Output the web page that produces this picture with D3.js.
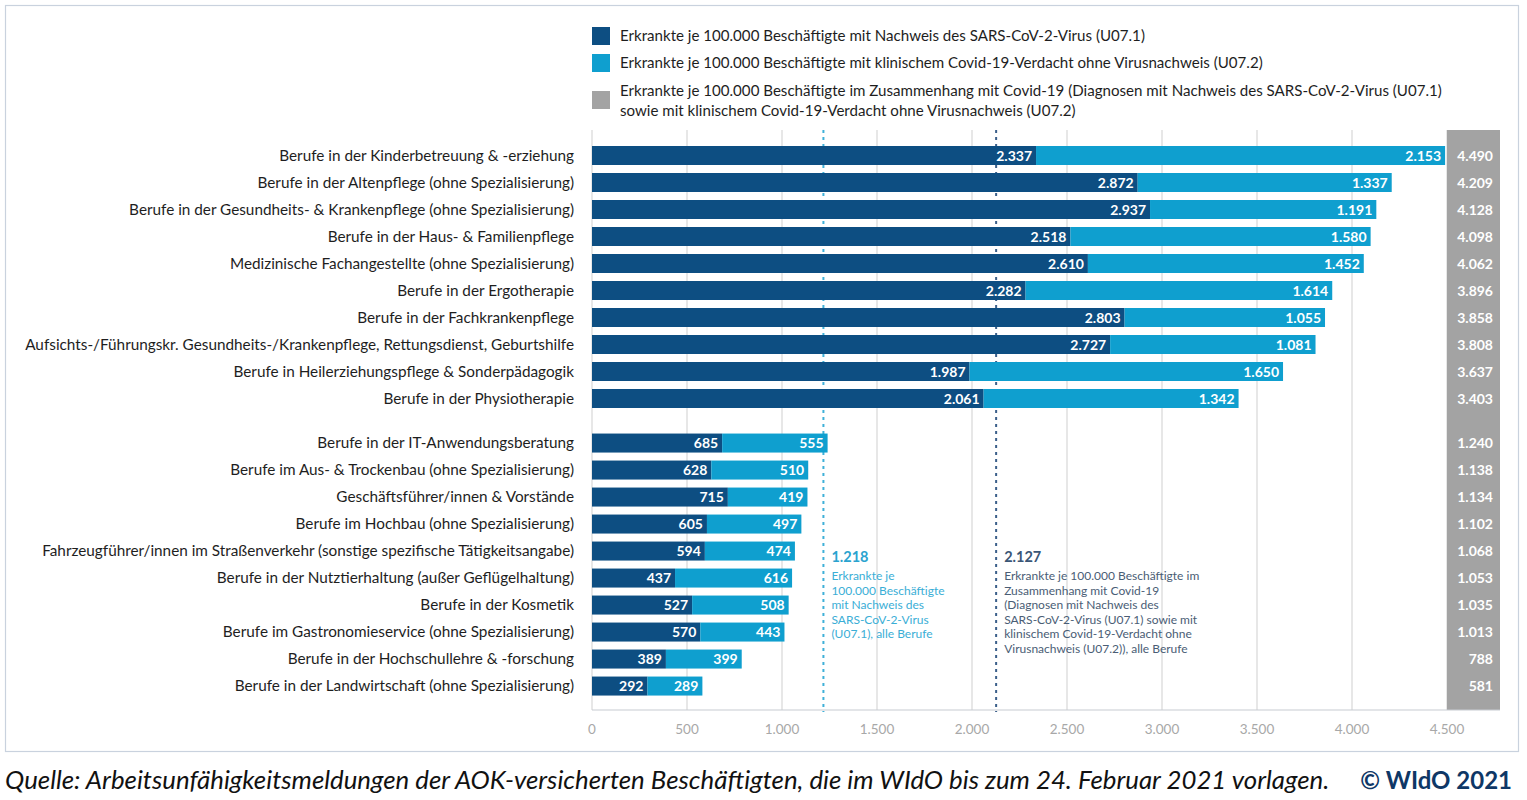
<!DOCTYPE html>
<html>
<head>
<meta charset="utf-8">
<script src="https://cdn.jsdelivr.net/npm/d3@7"></script>
<style>
  body { margin: 0; background: #fff; }
  svg { font-family: Lato, "Open Sans", sans-serif; }
</style>
</head>
<body>
<div id="container"></div>
<script>
// ---------------------
// DATA
// ---------------------
const categories = [
  'Berufe in der Kinderbetreuung & -erziehung',
  'Berufe in der Altenpflege (ohne Spezialisierung)',
  'Berufe in der Gesundheits- & Krankenpflege (ohne Spezialisierung)',
  'Berufe in der Haus- & Familienpflege',
  'Medizinische Fachangestellte (ohne Spezialisierung)',
  'Berufe in der Ergotherapie',
  'Berufe in der Fachkrankenpflege',
  'Aufsichts-/Führungskr. Gesundheits-/Krankenpflege, Rettungsdienst, Geburtshilfe',
  'Berufe in Heilerziehungspflege & Sonderpädagogik',
  'Berufe in der Physiotherapie',
  'Berufe in der IT-Anwendungsberatung',
  'Berufe im Aus- & Trockenbau (ohne Spezialisierung)',
  'Geschäftsführer/innen & Vorstände',
  'Berufe im Hochbau (ohne Spezialisierung)',
  'Fahrzeugführer/innen im Straßenverkehr (sonstige spezifische Tätigkeitsangabe)',
  'Berufe in der Nutztierhaltung (außer Geflügelhaltung)',
  'Berufe in der Kosmetik',
  'Berufe im Gastronomieservice (ohne Spezialisierung)',
  'Berufe in der Hochschullehre & -forschung',
  'Berufe in der Landwirtschaft (ohne Spezialisierung)'
];
const u071 = [2337, 2872, 2937, 2518, 2610, 2282, 2803, 2727, 1987, 2061,
              685, 628, 715, 605, 594, 437, 527, 570, 389, 292];
const u072 = [2153, 1337, 1191, 1580, 1452, 1614, 1055, 1081, 1650, 1342,
              555, 510, 419, 497, 474, 616, 508, 443, 399, 289];
const totals = [4490, 4209, 4128, 4098, 4062, 3896, 3858, 3808, 3637, 3403,
                1240, 1138, 1134, 1102, 1068, 1053, 1035, 1013, 788, 581];
const groupSize = 10;

const xTicks = [0, 500, 1000, 1500, 2000, 2500, 3000, 3500, 4000, 4500];

const legendItems = [
  ['Erkrankte je 100.000 Beschäftigte mit Nachweis des SARS-CoV-2-Virus (U07.1)'],
  ['Erkrankte je 100.000 Beschäftigte mit klinischem Covid-19-Verdacht ohne Virusnachweis (U07.2)'],
  ['Erkrankte je 100.000 Beschäftigte im Zusammenhang mit Covid-19 (Diagnosen mit Nachweis des SARS-CoV-2-Virus (U07.1)',
   'sowie mit klinischem Covid-19-Verdacht ohne Virusnachweis (U07.2)']
];

const refLines = [
  { value: 1218, kind: 'light',
    text: ['Erkrankte je', '100.000 Beschäftigte', 'mit Nachweis des', 'SARS-CoV-2-Virus', '(U07.1), alle Berufe'] },
  { value: 2127, kind: 'dark',
    text: ['Erkrankte je 100.000 Beschäftigte im', 'Zusammenhang mit Covid-19', '(Diagnosen mit Nachweis des',
           'SARS-CoV-2-Virus (U07.1) sowie mit', 'klinischem Covid-19-Verdacht ohne', 'Virusnachweis (U07.2)), alle Berufe'] }
];

const sourceText = 'Quelle: Arbeitsunfähigkeitsmeldungen der AOK-versicherten Beschäftigten, die im WIdO bis zum 24. Februar 2021 vorlagen.';
const copyText = '© WIdO 2021';

// ---------------------
// SETUP
// ---------------------
const W = 1527, H = 800;
const colors = { dark: '#0d4e82', light: '#0f9fcf', gray: '#a3a3a3', grid: '#cfcfcf' };
const de = d3.formatLocale({ decimal: ',', thousands: '.', grouping: [3], currency: ['', '€'] });
const fmt = de.format(',d');

const svg = d3.select('#container').append('svg')
  .attr('width', W).attr('height', H);

// outer frame
svg.append('rect')
  .attr('x', 5.5).attr('y', 5.5)
  .attr('width', 1513).attr('height', 746)
  .attr('fill', 'none').attr('stroke', '#c9d2de').attr('stroke-width', 1.2);

const x = d3.scaleLinear().domain([0, 4500]).range([592, 1447]);
// row index -> center y, group 2 shifted down by a gap
const rowY = d3.scaleLinear().domain([0, 1]).range([155.5, 182.5]);
const gap = 0.65;
const yPos = i => rowY(i + (i >= groupSize ? gap : 0));
const barH = 19;
const plotTop = 130, plotBottom = 710;

// ---------------------
// GRID + AXIS
// ---------------------
svg.append('g').selectAll('line')
  .data(xTicks)
  .enter().append('line')
  .attr('x1', d => x(d)).attr('x2', d => x(d))
  .attr('y1', plotTop).attr('y2', plotBottom)
  .attr('stroke', colors.grid).attr('stroke-width', 1);

// total column (gray)
svg.append('rect')
  .attr('x', x(4500)).attr('y', plotTop)
  .attr('width', 53).attr('height', plotBottom - plotTop)
  .attr('fill', colors.gray);

svg.append('line')
  .attr('x1', x(0)).attr('x2', x(4500) + 53)
  .attr('y1', plotBottom).attr('y2', plotBottom)
  .attr('stroke', '#c8ccd2').attr('stroke-width', 1.2);

svg.append('g').selectAll('text')
  .data(xTicks)
  .enter().append('text')
  .attr('x', d => x(d)).attr('y', 734)
  .attr('text-anchor', 'middle')
  .attr('font-size', 13.5).attr('fill', '#a8a8a8')
  .text(d => fmt(d));

// reference lines (behind bars)
svg.append('g').selectAll('line')
  .data(refLines)
  .enter().append('line')
  .attr('x1', d => x(d.value)).attr('x2', d => x(d.value))
  .attr('y1', plotTop).attr('y2', plotBottom + 2)
  .attr('stroke', d => d.kind === 'light' ? '#3fb0d8' : '#3b5f8a')
  .attr('stroke-width', 2)
  .attr('stroke-dasharray', '3,4');

// ---------------------
// BARS
// ---------------------
const rows = categories.map((c, i) => ({ c, i, a: u071[i], b: u072[i], t: totals[i] }));

const g = svg.append('g');
g.selectAll('.bar_a')
  .data(rows).enter().append('rect')
  .attr('class', 'bar_a')
  .attr('x', x(0)).attr('y', d => yPos(d.i) - barH / 2)
  .attr('width', d => x(d.a) - x(0)).attr('height', barH)
  .attr('fill', colors.dark);

g.selectAll('.bar_b')
  .data(rows).enter().append('rect')
  .attr('class', 'bar_b')
  .attr('x', d => x(d.a)).attr('y', d => yPos(d.i) - barH / 2)
  .attr('width', d => x(d.a + d.b) - x(d.a)).attr('height', barH)
  .attr('fill', colors.light);

// value labels inside bars
g.selectAll('.lab_a')
  .data(rows).enter().append('text')
  .attr('x', d => x(d.a) - 4).attr('y', d => yPos(d.i) + 5)
  .attr('text-anchor', 'end').attr('font-size', 14).attr('font-weight', 'bold')
  .attr('fill', '#fff')
  .text(d => fmt(d.a));

g.selectAll('.lab_b')
  .data(rows).enter().append('text')
  .attr('x', d => x(d.a + d.b) - 4).attr('y', d => yPos(d.i) + 5)
  .attr('text-anchor', 'end').attr('font-size', 14).attr('font-weight', 'bold')
  .attr('fill', '#fff')
  .text(d => fmt(d.b));

g.selectAll('.lab_t')
  .data(rows).enter().append('text')
  .attr('x', x(4500) + 46).attr('y', d => yPos(d.i) + 5)
  .attr('text-anchor', 'end').attr('font-size', 14).attr('font-weight', 'bold')
  .attr('fill', '#fff')
  .text(d => fmt(d.t));

// category labels
g.selectAll('.cat')
  .data(rows).enter().append('text')
  .attr('x', 574).attr('y', d => yPos(d.i) + 5)
  .attr('text-anchor', 'end').attr('font-size', 15.3)
  .attr('fill', '#1e1e1e')
  .text(d => d.c);

// ---------------------
// REFERENCE ANNOTATIONS
// ---------------------
refLines.forEach(r => {
  const tx = x(r.value) + 8;
  const col = r.kind === 'light' ? '#2aa3cf' : '#3a5676';
  const colBody = r.kind === 'light' ? '#3aaed6' : '#4a5d75';
  svg.append('text')
    .attr('x', tx).attr('y', 562)
    .attr('font-size', 14.5).attr('font-weight', 'bold').attr('fill', col)
    .text(fmt(r.value));
  svg.append('g').selectAll('text')
    .data(r.text).enter().append('text')
    .attr('x', tx).attr('y', (d, j) => 580 + j * 14.6)
    .attr('font-size', 12).attr('fill', colBody)
    .text(d => d);
});

// ---------------------
// LEGEND
// ---------------------
const legendColors = [colors.dark, colors.light, colors.gray];
const legendY = [36, 63, 91];
const lg = svg.append('g');
legendItems.forEach((lines, i) => {
  const sy = i === 2 ? legendY[i] + 9 : legendY[i];
  lg.append('rect')
    .attr('x', 592).attr('y', sy - 9)
    .attr('width', 18).attr('height', 18)
    .attr('fill', legendColors[i]);
  lines.forEach((t, j) => {
    lg.append('text')
      .attr('x', 620).attr('y', legendY[i] + 5 + j * 20)
      .attr('font-size', 15.1).attr('fill', '#1e1e1e')
      .text(t);
  });
});

// ---------------------
// SOURCE
// ---------------------
svg.append('text')
  .attr('x', 5).attr('y', 789)
  .attr('font-size', 25.8).attr('font-style', 'italic').attr('fill', '#111')
  .text(sourceText);

svg.append('text')
  .attr('x', 1512).attr('y', 789)
  .attr('text-anchor', 'end')
  .attr('font-size', 24).attr('font-weight', 'bold').attr('fill', '#0e3766')
  .text(copyText);
</script>
</body>
</html>
